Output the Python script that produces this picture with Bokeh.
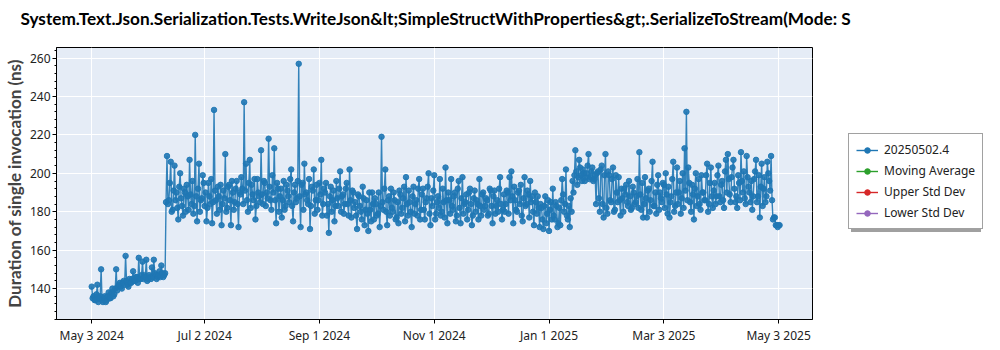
from datetime import datetime, timedelta
from bokeh.plotting import figure
from bokeh.layouts import row, column
from bokeh.models import (Range1d, FixedTicker, CustomJSTickFormatter, Legend, LegendItem,
                          ColumnDataSource, Label)
from bokeh.embed import file_html
from bokeh.resources import INLINE

# ---------------- data (a morning and a midday run per day) ----------------
start_date = datetime(2024, 5, 3)

may_jun_2024_am = [141, 136, 134, 142, 135, 150, 133, 136, 134, 138,
                   135, 140, 137, 150, 141, 143, 140, 144, 157, 142,
                   145, 143, 149, 144, 146, 156, 145, 154, 147, 155,
                   145, 146, 151, 155, 147, 146, 149, 152, 146, 148]
may_jun_2024_pm = [135, 134, 137, 133, 136, 134, 135, 133, 136, 135,
                   138, 136, 140, 139, 142, 141, 143, 142, 144, 141,
                   143, 145, 144, 146, 143, 145, 147, 145, 146, 144,
                   147, 145, 146, 148, 145, 147, 146, 148, 147, 185]
jun_aug_2024_am = [209, 186, 206, 181, 204, 190, 176, 200, 183, 192,
                   180, 188, 207, 184, 179, 220, 175, 205, 186, 199,
                   183, 175, 195, 184, 174, 233, 186, 193, 181, 173,
                   191, 210, 182, 194, 173, 190, 185, 196, 172, 189,
                   192, 237, 205, 180, 207, 194, 186, 176, 197, 188]
jun_aug_2024_pm = [184, 195, 180, 191, 186, 182, 193, 187, 178, 190,
                   194, 181, 189, 196, 183, 188, 192, 180, 187, 195,
                   190, 182, 188, 197, 185, 191, 179, 188, 194, 184,
                   187, 180, 193, 186, 196, 181, 192, 184, 190, 198,
                   184, 191, 186, 195, 182, 189, 197, 183, 190, 185]
aug_oct_2024_am = [212, 184, 195, 190, 218, 186, 199, 213, 174, 192,
                   188, 177, 196, 183, 191, 185, 202, 175, 194, 187,
                   257, 172, 195, 205, 190, 184, 171, 193, 202, 186,
                   181, 195, 207, 184, 190, 178, 169, 193, 186, 175,
                   196, 183, 201, 188, 179, 192, 184, 202, 177, 190,
                   185, 171, 188, 180, 193, 173, 186, 170, 181, 190]
aug_oct_2024_pm = [189, 196, 183, 187, 193, 181, 190, 186, 195, 180,
                   192, 186, 181, 194, 188, 197, 183, 190, 185, 196,
                   188, 194, 181, 189, 186, 197, 183, 191, 179, 194,
                   186, 189, 178, 192, 195, 184, 188, 180, 191, 183,
                   187, 192, 180, 189, 184, 195, 178, 186, 191, 182,
                   178, 189, 183, 176, 187, 181, 179, 190, 175, 184]
oct_dec_2024_am = [176, 184, 179, 172, 219, 181, 202, 173, 188, 192,
                   180, 186, 177, 174, 189, 182, 193, 198, 178, 185,
                   172, 193, 184, 178, 197, 181, 192, 176, 187, 200,
                   173, 183, 199, 179, 188, 197, 180, 185, 203, 174,
                   186, 197, 181, 190, 178, 196, 174, 198, 184, 189,
                   181, 192, 173, 187, 180, 184, 197, 178, 190, 183,
                   186, 179, 191, 174, 191, 183, 180, 198, 176, 189]
oct_dec_2024_pm = [187, 178, 190, 183, 185, 192, 180, 186, 178, 182,
                   190, 176, 185, 191, 179, 187, 175, 184, 191, 180,
                   188, 179, 186, 192, 176, 189, 181, 185, 193, 179,
                   187, 191, 176, 185, 182, 178, 192, 177, 186, 190,
                   179, 183, 188, 175, 192, 182, 187, 179, 185, 176,
                   190, 184, 178, 191, 186, 176, 183, 189, 181, 187,
                   178, 192, 183, 188, 179, 186, 192, 184, 181, 180]
dec_feb_2025_am = [184, 190, 198, 201, 174, 186, 180, 191, 194, 175,
                   198, 184, 189, 196, 188, 173, 185, 188, 172, 182,
                   171, 188, 179, 170, 185, 192, 176, 183, 174, 173,
                   197, 180, 202, 176, 172, 180, 190, 212, 194, 207,
                   199, 202, 196, 200, 210, 198, 203, 197, 184, 201,
                   180, 204, 177, 210, 179, 199, 185, 203, 181, 190]
dec_feb_2025_pm = [191, 179, 186, 188, 193, 181, 190, 184, 178, 187,
                   183, 191, 177, 185, 180, 190, 179, 182, 184, 176,
                   183, 174, 186, 181, 176, 178, 185, 172, 182, 186,
                   189, 184, 178, 183, 187, 196, 199, 201, 198, 203,
                   196, 200, 198, 204, 197, 201, 196, 199, 200, 187,
                   202, 184, 199, 182, 201, 186, 197, 180, 199, 185]
feb_may_2025_am = [198, 178, 187, 192, 194, 183, 188, 182, 190, 185,
                   197, 211, 181, 177, 198, 177, 192, 186, 206, 183,
                   179, 199, 190, 185, 194, 200, 179, 177, 188, 206,
                   183, 203, 190, 179, 200, 213, 232, 203, 185, 194,
                   176, 200, 188, 184, 199, 190, 186, 205, 184, 203,
                   182, 195, 188, 204, 185, 196, 182, 207, 210, 189,
                   198, 207, 185, 182, 195, 211, 190, 187, 209, 193,
                   185, 181, 197, 207, 188, 177, 205, 192, 185, 206,
                   196, 209, 176, 177, 173, 173]
feb_may_2025_pm = [186, 192, 180, 189, 185, 196, 181, 193, 184, 188,
                   182, 189, 195, 184, 187, 191, 180, 196, 183, 190,
                   194, 181, 187, 195, 182, 189, 193, 185, 197, 180,
                   190, 184, 196, 187, 182, 191, 186, 195, 180, 189,
                   192, 183, 197, 181, 190, 186, 199, 180, 195, 188,
                   191, 184, 199, 188, 194, 186, 201, 190, 197, 185,
                   203, 192, 188, 199, 186, 196, 201, 184, 198, 190,
                   196, 188, 201, 185, 199, 193, 183, 198, 188, 200,
                   191, 186, 177, 173, 172, 173]

morning_runs = (may_jun_2024_am + jun_aug_2024_am + aug_oct_2024_am +
                oct_dec_2024_am + dec_feb_2025_am + feb_may_2025_am)
midday_runs = (may_jun_2024_pm + jun_aug_2024_pm + aug_oct_2024_pm +
               oct_dec_2024_pm + dec_feb_2025_pm + feb_may_2025_pm)

dates, durations = [], []
for i, (a, b) in enumerate(zip(morning_runs, midday_runs)):
    day = start_date + timedelta(days=i)
    dates += [day, day + timedelta(hours=12)]
    durations += [a, b]

tick_dates = [datetime(2024, 5, 3), datetime(2024, 7, 2), datetime(2024, 9, 1),
              datetime(2024, 11, 1), datetime(2025, 1, 1), datetime(2025, 3, 3),
              datetime(2025, 5, 3)]
y_ticks = [140, 160, 180, 200, 220, 240, 260]

series_name = "20250502.4"
legend_names = [series_name, "Moving Average", "Upper Std Dev", "Lower Std Dev"]
legend_colors = ["#1f77b4", "#2ca02c", "#d62728", "#9467bd"]

title_text = ("System.Text.Json.Serialization.Tests.WriteJson&lt;SimpleStructWithProperties&gt;"
              ".SerializeToStream(Mode: S")
y_label = "Duration of single invocation (ns)"

# ---------------- title strip ----------------
tf = figure(width=1000, height=46, output_backend="svg", toolbar_location=None,
            x_range=Range1d(0, 1000), y_range=Range1d(0, 46),
            x_axis_location=None, y_axis_location=None,
            min_border_left=0, min_border_right=0, min_border_top=0, min_border_bottom=0)
tf.grid.visible = False
tf.outline_line_color = None
tf.background_fill_color = "white"
tf.add_layout(Label(x=20, y=28, text=title_text, text_baseline="middle", text_align="left",
                    text_font="Lato", text_font_size="17.2px", text_font_style="bold",
                    text_color="black"))

# ---------------- main chart ----------------
def ms(d):
    return (d - datetime(1970, 1, 1)).total_seconds() * 1000.0

x_start = ms(datetime(2024, 4, 14, 7))
x_end = ms(datetime(2025, 5, 21))

p = figure(width=814, height=304, x_axis_type="datetime",
           output_backend="svg", toolbar_location=None,
           x_range=Range1d(x_start, x_end), y_range=Range1d(123.9, 265.5),
           min_border_left=54, min_border_right=2, min_border_top=1, min_border_bottom=31)

p.background_fill_color = "#E5ECF6"
p.border_fill_color = "white"
p.outline_line_color = "black"
p.outline_line_width = 1
p.outline_line_alpha = 1.0

p.xgrid.grid_line_color = "white"
p.ygrid.grid_line_color = "white"
p.xgrid.grid_line_width = 1
p.ygrid.grid_line_width = 1

xa = p.xaxis[0]
xa.ticker = FixedTicker(ticks=[ms(d) for d in tick_dates])
xa.formatter = CustomJSTickFormatter(code="""
const m = ['Jan','Feb','Mar','Apr','May','Jun','Jul','Aug','Sep','Oct','Nov','Dec'];
const d = new Date(tick);
return m[d.getUTCMonth()] + ' ' + d.getUTCDate() + ' ' + d.getUTCFullYear();
""")
xa.major_label_text_font = "Noto Sans"
xa.major_label_text_font_size = "12px"
xa.major_label_text_color = "#222222"
xa.major_tick_out = 4
xa.major_tick_in = 0
xa.minor_tick_out = 0
xa.major_label_standoff = 3
xa.axis_line_color = "black"

ya = p.yaxis[0]
ya.ticker = FixedTicker(ticks=y_ticks, minor_ticks=list(range(124, 266, 4)))
ya.major_label_text_font = "Noto Sans"
ya.major_label_text_font_size = "12px"
ya.major_label_text_color = "#222222"
ya.major_tick_out = 4
ya.major_tick_in = 0
ya.minor_tick_out = 2
ya.minor_tick_in = 0
ya.major_label_standoff = 2
ya.axis_label = y_label
ya.axis_label_text_font = "Lato"
ya.axis_label_text_font_size = "17px"
ya.axis_label_text_font_style = "bold"
ya.axis_label_standoff = 2
ya.axis_line_color = "black"

src = ColumnDataSource(dict(x=dates, y=durations))
p.line("x", "y", source=src, line_color="#1f77b4", line_width=1.4, line_alpha=0.9)
p.scatter("x", "y", source=src, size=5.5, fill_color="#1f77b4", line_color="#1f77b4",
          fill_alpha=0.9, line_alpha=0.9)

# ---------------- legend panel (separate narrow figure to the right) ----------------
lg = figure(width=186, height=304, output_backend="svg", toolbar_location=None,
            x_range=Range1d(0, 1), y_range=Range1d(0, 1),
            x_axis_location=None, y_axis_location=None,
            min_border_left=0, min_border_right=0, min_border_top=0, min_border_bottom=0)
lg.grid.visible = False
lg.outline_line_color = None
lg.background_fill_color = "white"

items, shadow_items = [], []
for name, col in zip(legend_names, legend_colors):
    hidden = ColumnDataSource(dict(x=[float("nan")], y=[float("nan")]))
    lr = lg.line("x", "y", source=hidden, line_color=col, line_width=1.4)
    sr = lg.scatter("x", "y", source=hidden, size=5.5, fill_color=col, line_color=col)
    items.append(LegendItem(label=name, renderers=[lr, sr]))
    tr = lg.line("x", "y", source=hidden, line_alpha=0)
    shadow_items.append(LegendItem(label=" ", renderers=[tr]))

common = dict(label_text_font="Noto Sans", label_text_font_size="12px",
              glyph_width=22, glyph_height=14, spacing=4, padding=7, margin=0,
              label_standoff=6, label_height=14, label_width=88)
shadow = Legend(items=shadow_items, location=(37, 87), background_fill_color="#a0a0a0",
                background_fill_alpha=1.0, border_line_alpha=0, **common)
legend = Legend(items=items, location=(34, 90), background_fill_color="white",
                background_fill_alpha=1.0, border_line_color="#444444", border_line_width=1,
                label_text_color="#222222", **common)
lg.add_layout(shadow)
lg.add_layout(legend)

layout = column(tf, row(p, lg, spacing=0), spacing=0)
open("out.html", "w").write(file_html(layout, INLINE))
